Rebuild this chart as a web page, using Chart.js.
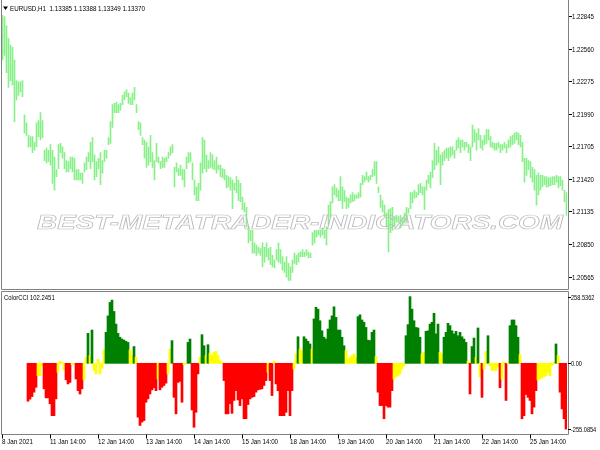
<!DOCTYPE html>
<html>
<head>
<meta charset="utf-8">
<title>EURUSD H1 - ColorCCI</title>
<script src="https://cdn.jsdelivr.net/npm/chart.js@4.4.1/dist/chart.umd.min.js"></script>
<style>
  html, body { margin: 0; padding: 0; background: #fff; }
  #marco { position: relative; width: 600px; height: 450px; overflow: hidden; background: #fff; }
  #marco canvas { position: absolute; left: 0; }
</style>
</head>
<body>
<div id="marco">
  <canvas id="precio" width="600" height="290" style="top:0"></canvas>
  <canvas id="cci" width="600" height="160" style="top:290px"></canvas>
</div>
<script>
// ======== Datos (velas H1, solo maximo y minimo) ========
const maximos = [
  1.2285, 1.2284, 1.2276, 1.2265, 1.2259, 1.2257, 1.2246, 1.2228, 1.2227, 1.2227,
  1.2228, 1.2198, 1.2191, 1.2180, 1.2179, 1.2179, 1.2174, 1.2191, 1.2193, 1.2200,
  1.2193, 1.2167, 1.2169, 1.2167, 1.2172, 1.2167, 1.2161, 1.2150, 1.2172, 1.2173,
  1.2170, 1.2165, 1.2158, 1.2157, 1.2161, 1.2161, 1.2160, 1.2150, 1.2150, 1.2147,
  1.2147, 1.2156, 1.2161, 1.2165, 1.2174, 1.2178, 1.2163, 1.2157, 1.2160, 1.2165,
  1.2158, 1.2167, 1.2167, 1.2178, 1.2192, 1.2207, 1.2208, 1.2209, 1.2207, 1.2208,
  1.2215, 1.2218, 1.2220, 1.2217, 1.2213, 1.2217, 1.2222, 1.2207, 1.2192, 1.2191,
  1.2178, 1.2176, 1.2174, 1.2170, 1.2180, 1.2165, 1.2158, 1.2173, 1.2161, 1.2157,
  1.2161, 1.2160, 1.2161, 1.2165, 1.2170, 1.2172, 1.2152, 1.2156, 1.2151, 1.2154,
  1.2150, 1.2150, 1.2161, 1.2165, 1.2165, 1.2156, 1.2141, 1.2135, 1.2138, 1.2156,
  1.2178, 1.2176, 1.2163, 1.2158, 1.2165, 1.2163, 1.2158, 1.2161, 1.2154, 1.2154,
  1.2151, 1.2150, 1.2145, 1.2144, 1.2143, 1.2141, 1.2138, 1.2144, 1.2141, 1.2138,
  1.2126, 1.2121, 1.2117, 1.2100, 1.2097, 1.2097, 1.2086, 1.2084, 1.2082, 1.2081,
  1.2086, 1.2082, 1.2086, 1.2081, 1.2082, 1.2075, 1.2071, 1.2080, 1.2086, 1.2080,
  1.2074, 1.2069, 1.2074, 1.2068, 1.2065, 1.2071, 1.2077, 1.2075, 1.2077, 1.2078,
  1.2080, 1.2078, 1.2080, 1.2078, 1.2077, 1.2095, 1.2097, 1.2097, 1.2097, 1.2097,
  1.2099, 1.2097, 1.2100, 1.2119, 1.2122, 1.2135, 1.2137, 1.2134, 1.2132, 1.2144,
  1.2135, 1.2132, 1.2126, 1.2125, 1.2128, 1.2130, 1.2128, 1.2128, 1.2130, 1.2138,
  1.2145, 1.2144, 1.2148, 1.2144, 1.2145, 1.2150, 1.2157, 1.2157, 1.2135, 1.2128,
  1.2123, 1.2119, 1.2112, 1.2115, 1.2116, 1.2117, 1.2109, 1.2110, 1.2109, 1.2110,
  1.2108, 1.2112, 1.2117, 1.2116, 1.2130, 1.2130, 1.2132, 1.2130, 1.2137, 1.2138,
  1.2135, 1.2135, 1.2141, 1.2145, 1.2148, 1.2158, 1.2173, 1.2167, 1.2170, 1.2163,
  1.2165, 1.2167, 1.2169, 1.2169, 1.2170, 1.2170, 1.2167, 1.2176, 1.2178, 1.2176,
  1.2176, 1.2174, 1.2174, 1.2172, 1.2170, 1.2189, 1.2185, 1.2182, 1.2186, 1.2180,
  1.2176, 1.2180, 1.2185, 1.2185, 1.2179, 1.2174, 1.2173, 1.2173, 1.2174, 1.2172,
  1.2172, 1.2174, 1.2172, 1.2176, 1.2179, 1.2180, 1.2182, 1.2183, 1.2182, 1.2180,
  1.2174, 1.2160, 1.2160, 1.2158, 1.2157, 1.2152, 1.2150, 1.2145, 1.2147, 1.2145,
  1.2145, 1.2144, 1.2144, 1.2143, 1.2143, 1.2144, 1.2144, 1.2145, 1.2144, 1.2144,
  1.2141, 1.2132, 1.2130
];
const minimos = [
  1.2246, 1.2250, 1.2235, 1.2222, 1.2228, 1.2224, 1.2192, 1.2211, 1.2215, 1.2218,
  1.2214, 1.2182, 1.2180, 1.2170, 1.2170, 1.2165, 1.2167, 1.2170, 1.2179, 1.2176,
  1.2178, 1.2158, 1.2156, 1.2157, 1.2154, 1.2138, 1.2132, 1.2144, 1.2151, 1.2165,
  1.2160, 1.2151, 1.2148, 1.2148, 1.2151, 1.2148, 1.2141, 1.2141, 1.2141, 1.2141,
  1.2138, 1.2148, 1.2150, 1.2157, 1.2151, 1.2157, 1.2141, 1.2144, 1.2151, 1.2137,
  1.2147, 1.2157, 1.2160, 1.2172, 1.2173, 1.2187, 1.2200, 1.2200, 1.2200, 1.2202,
  1.2207, 1.2211, 1.2214, 1.2208, 1.2207, 1.2207, 1.2211, 1.2200, 1.2185, 1.2180,
  1.2172, 1.2160, 1.2152, 1.2154, 1.2157, 1.2152, 1.2141, 1.2157, 1.2156, 1.2151,
  1.2152, 1.2152, 1.2157, 1.2160, 1.2163, 1.2165, 1.2135, 1.2148, 1.2145, 1.2145,
  1.2141, 1.2135, 1.2151, 1.2156, 1.2157, 1.2141, 1.2128, 1.2123, 1.2123, 1.2132,
  1.2147, 1.2151, 1.2148, 1.2151, 1.2152, 1.2151, 1.2150, 1.2147, 1.2150, 1.2144,
  1.2143, 1.2141, 1.2134, 1.2135, 1.2132, 1.2116, 1.2132, 1.2130, 1.2123, 1.2122,
  1.2115, 1.2113, 1.2100, 1.2086, 1.2088, 1.2077, 1.2077, 1.2075, 1.2077, 1.2075,
  1.2065, 1.2069, 1.2074, 1.2071, 1.2067, 1.2065, 1.2064, 1.2071, 1.2069, 1.2068,
  1.2062, 1.2060, 1.2056, 1.2053, 1.2053, 1.2060, 1.2068, 1.2067, 1.2069, 1.2074,
  1.2074, 1.2074, 1.2075, 1.2073, 1.2073, 1.2084, 1.2086, 1.2091, 1.2093, 1.2091,
  1.2093, 1.2090, 1.2084, 1.2102, 1.2109, 1.2121, 1.2128, 1.2126, 1.2123, 1.2123,
  1.2116, 1.2122, 1.2116, 1.2117, 1.2121, 1.2122, 1.2123, 1.2125, 1.2125, 1.2126,
  1.2137, 1.2139, 1.2141, 1.2139, 1.2141, 1.2144, 1.2145, 1.2138, 1.2130, 1.2117,
  1.2113, 1.2109, 1.2100, 1.2078, 1.2095, 1.2097, 1.2100, 1.2104, 1.2104, 1.2099,
  1.2102, 1.2104, 1.2104, 1.2112, 1.2116, 1.2121, 1.2125, 1.2126, 1.2128, 1.2130,
  1.2128, 1.2115, 1.2132, 1.2138, 1.2134, 1.2143, 1.2150, 1.2154, 1.2156, 1.2137,
  1.2154, 1.2158, 1.2160, 1.2158, 1.2161, 1.2163, 1.2160, 1.2167, 1.2169, 1.2165,
  1.2170, 1.2167, 1.2170, 1.2165, 1.2158, 1.2170, 1.2174, 1.2167, 1.2176, 1.2169,
  1.2167, 1.2172, 1.2173, 1.2176, 1.2170, 1.2169, 1.2167, 1.2167, 1.2169, 1.2165,
  1.2167, 1.2169, 1.2165, 1.2169, 1.2170, 1.2172, 1.2173, 1.2176, 1.2172, 1.2170,
  1.2157, 1.2139, 1.2145, 1.2150, 1.2143, 1.2139, 1.2132, 1.2119, 1.2128, 1.2132,
  1.2135, 1.2137, 1.2135, 1.2135, 1.2136, 1.2137, 1.2137, 1.2139, 1.2134, 1.2136,
  1.2132, 1.2122, 1.2110
];

// ======== Datos ColorCCI ========
const cciValores = [
  null, null, null, null, null, null, null, null, null, null,
  null, null, null, -147, -139, -129, -112, -93, -48, -48,
  -10, -99, -134, -134, -157, -203, -203, -138, -35, 8,
  4, -25, -64, -80, -74, -5, -3, -61, -106, -119,
  -99, -64, 23, 116, 30, 129, -28, -41, 15, -41,
  -20, 52, 120, 184, 236, 245, 201, 152, 116, 101,
  94, 90, 85, 81, 52, 30, 65, 23, -209, -241,
  -228, -222, -151, -138, -119, -103, -95, -106, -61, -103,
  -93, -86, -77, -41, 55, 88, -132, -196, -74, -70,
  -151, -5, -2, 81, 94, -181, -248, -190, -41, 23,
  111, 68, 30, 72, 39, 30, 43, 46, 30, 10,
  5, -67, -196, -196, -157, -194, -144, -106, -142, -164,
  -138, -215, -215, -160, -138, -132, -129, -112, -103, -101,
  -99, -86, -67, -35, -67, -125, 8, -80, -106, -203,
  -203, -203, -190, -106, -203, -106, -22, 36, 103, 55,
  49, 103, 94, 85, 75, 55, 172, 217, 210, 165,
  126, 101, 94, 133, 168, 184, 219, 178, 129, 129,
  101, 68, 49, 17, 23, 30, 36, 23, 181, 188,
  168, 159, 139, 90, 88, 120, 129, 26, -112, -164,
  -164, -215, -164, -170, -170, -106, -61, -52, -48, -41,
  -22, -9, 107, 150, 258.5, 210, 165, 139, 137, 101,
  36, 43, 124, 126, 152, 159, 194, 114, 152, 43,
  36, 101, 120, 155, 146, 126, 114, 124, 107, 120,
  103, 94, 81, 8, -119, 65, 98, 23, 137, -52,
  -132, -22, 46, 107, -9, -28, -26, -28, -15, -95,
  -61, 5, -144, -3, 146, 168, 168, 146, 101, 34,
  -215, -203, -121, -132, -144, -196, -170, -106, -65, -61,
  -57, -52, -48, -35, -48, -9, 4, 75, 30, -112,
  -177, -215, -255.1
];
// 1 = sube (verde), 0 = neutro (amarillo), -1 = baja (rojo)
const cciEstado = [
  0, 0, 0, 0, 0, 0, 0, 0, 0, 0,
  0, 0, 0, -1, -1, -1, -1, -1, 0, 0,
  0, -1, -1, -1, -1, -1, -1, -1, 0, 0,
  0, 0, -1, -1, -1, 0, 0, -1, -1, -1,
  -1, 0, 0, 1, 0, 1, 0, 0, 0, 0,
  0, 0, 1, 1, 1, 1, 1, 1, 1, 1,
  1, 1, 1, 1, 0, 0, 1, 0, -1, -1,
  -1, -1, -1, -1, -1, -1, -1, -1, 0, -1,
  -1, -1, -1, 0, 0, 1, -1, -1, -1, -1,
  -1, 0, 0, 1, 1, -1, -1, -1, -1, 0,
  1, 1, 0, 1, 0, 0, 0, 0, 0, 0,
  0, -1, -1, -1, -1, -1, -1, -1, -1, -1,
  -1, -1, -1, -1, -1, -1, -1, -1, -1, -1,
  -1, -1, -1, 0, -1, -1, 0, -1, -1, -1,
  -1, -1, -1, -1, -1, -1, 0, 0, 1, 0,
  0, 1, 1, 1, 1, 0, 1, 1, 1, 1,
  1, 1, 1, 1, 1, 1, 1, 1, 1, 1,
  1, 1, 0, 0, 0, 0, 0, 0, 1, 1,
  1, 1, 1, 1, 1, 1, 1, 0, -1, -1,
  -1, -1, -1, -1, -1, -1, 0, 0, 0, 0,
  0, 0, 1, 1, 1, 1, 1, 1, 1, 1,
  0, 0, 1, 1, 1, 1, 1, 1, 1, 0,
  0, 1, 1, 1, 1, 1, 1, 1, 1, 1,
  1, 1, 1, 0, -1, 1, 1, 0, 1, 0,
  -1, 0, 0, 1, 0, 0, 0, 0, 0, -1,
  0, 0, -1, 0, 1, 1, 1, 1, 1, 0,
  -1, -1, -1, -1, -1, -1, -1, -1, 0, 0,
  0, 0, 0, 0, 0, 0, 0, 1, 0, -1,
  -1, -1, -1
];

// ======== Ejes ========
const etiquetasFecha = ['8 Jan 2021', '11 Jan 14:00', '12 Jan 14:00', '13 Jan 14:00', '14 Jan 14:00',
  '15 Jan 14:00', '18 Jan 14:00', '19 Jan 14:00', '20 Jan 14:00', '21 Jan 14:00', '22 Jan 14:00', '25 Jan 14:00'];
const barrasPorEtiqueta = 24;
const preciosEje = [1.22845, 1.22560, 1.22275, 1.21990, 1.21705, 1.21420, 1.21135, 1.20850, 1.20565];
const cciEje = [258.5362, 0, -255.0854];
const cabecera = 'EURUSD,H1  1.13385 1.13388 1.13349 1.13370';
const nombreIndicador = 'ColorCCI 102.2451';
const marcaTexto = 'BEST-METATRADER-INDICATORS.COM';

const etiquetas = maximos.map((_, i) => i % barrasPorEtiqueta === 0 ? etiquetasFecha[i / barrasPorEtiqueta] : '');
const coloresCCI = { '1': '#008000', '0': '#ffff00', '-1': '#ff0000' };

// texto estrecho tipo MT4
const FUENTE = '8px "Liberation Sans", Arial, sans-serif';
const ESCALA_X = 0.78;
function texto(ctx, str, x, y, sx = ESCALA_X) {
  ctx.save();
  ctx.font = FUENTE;
  ctx.fillStyle = '#000';
  ctx.textBaseline = 'middle';
  ctx.textAlign = 'left';
  ctx.translate(x, y);
  ctx.scale(sx, 1);
  ctx.fillText(str, 0, 0);
  ctx.restore();
}

function ejeDerecho(ctx, escala, valores, formato, xBorde, sx) {
  ctx.save();
  ctx.strokeStyle = '#000';
  ctx.lineWidth = 1;
  valores.forEach(v => {
    const y = Math.round(escala.getPixelForValue(v)) + 0.5;
    ctx.beginPath();
    ctx.moveTo(xBorde, y);
    ctx.lineTo(xBorde + 3, y);
    ctx.stroke();
    texto(ctx, formato(v), xBorde + 3, y, sx);
  });
  ctx.restore();
}

const pluginPrecio = {
  id: 'pluginPrecio',
  afterDatasetsDraw(chart) {
    // marca de agua
    const ctx = chart.ctx;
    ctx.save();
    ctx.font = 'italic bold 20px "Liberation Sans", Arial, sans-serif';
    const w = ctx.measureText(marcaTexto).width;
    ctx.translate(37, 229);
    ctx.scale(526 / w, 1);
    ctx.strokeStyle = '#bcbcbc';
    ctx.lineWidth = 0.7;
    ctx.strokeText(marcaTexto, 0, 0);
    ctx.restore();
  },
  afterDraw(chart) {
    const { ctx, chartArea: a, scales: { y } } = chart;
    const der = Math.round(a.right) + 0.5;
    const abajo = Math.round(a.bottom) + 0.5;
    ctx.save();
    ctx.strokeStyle = '#808080';
    ctx.lineWidth = 1;
    ctx.beginPath();
    ctx.moveTo(1.5, 0); ctx.lineTo(1.5, abajo); ctx.lineTo(der, abajo); ctx.lineTo(der, 0);
    ctx.stroke();
    // triangulo del menu
    ctx.fillStyle = '#000';
    ctx.beginPath();
    ctx.moveTo(3, 6.5); ctx.lineTo(8, 6.5); ctx.lineTo(5.5, 10); ctx.closePath();
    ctx.fill();
    ctx.restore();
    texto(ctx, cabecera, 10, 8.5);
    ejeDerecho(ctx, y, preciosEje, v => v.toFixed(5), der + 0.5, 0.76);
  }
};

const pluginCCI = {
  id: 'pluginCCI',
  afterDraw(chart) {
    const { ctx, chartArea: a, scales: { x, y } } = chart;
    const der = Math.round(a.right) + 1.5;
    const abajo = Math.round(a.bottom) + 0.5;
    ctx.save();
    ctx.strokeStyle = '#808080';
    ctx.lineWidth = 1;
    ctx.beginPath();
    ctx.moveTo(1.5, 1.5); ctx.lineTo(1.5, abajo); ctx.lineTo(der, abajo); ctx.lineTo(der, 1.5); ctx.closePath();
    ctx.stroke();
    // marcas y fechas del eje X
    ctx.strokeStyle = '#000';
    etiquetasFecha.forEach((t, k) => {
      const px = Math.round(x.getPixelForValue(k * barrasPorEtiqueta)) + 0.5;
      ctx.beginPath();
      ctx.moveTo(px, abajo);
      ctx.lineTo(px, abajo + 4);
      ctx.stroke();
      texto(ctx, t, px - 0.5, abajo + 7.5);
    });
    ctx.restore();
    texto(ctx, nombreIndicador, 4, 7.5, 0.74);
    ejeDerecho(ctx, y, cciEje, v => v === 0 ? '0.00' : v.toFixed(4), der - 0.5, 0.7);
  }
};

// ======== Grafico de precio ========
new Chart(document.getElementById('precio'), {
  type: 'bar',
  data: {
    labels: etiquetas,
    datasets: [{
      data: maximos.map((h, i) => [minimos[i], h]),
      backgroundColor: '#88f088',
      barThickness: 1
    }]
  },
  options: {
    responsive: false,
    animation: false,
    events: [],
    layout: { padding: { left: 1.5, top: 0, right: 0, bottom: 1 } },
    plugins: { legend: { display: false }, tooltip: { enabled: false } },
    scales: {
      x: { display: false },
      y: {
        position: 'right', min: 1.20456, max: 1.22985,
        grid: { display: false }, border: { display: false }, ticks: { display: false },
        afterFit: s => { s.width = 32.5; }
      }
    }
  },
  plugins: [pluginPrecio]
});

// ======== Grafico ColorCCI ========
new Chart(document.getElementById('cci'), {
  type: 'bar',
  data: {
    labels: etiquetas,
    datasets: [{
      data: cciValores,
      backgroundColor: cciEstado.map(e => coloresCCI[e]),
      borderWidth: 0,
      barPercentage: 1,
      categoryPercentage: 1
    }]
  },
  options: {
    responsive: false,
    animation: false,
    events: [],
    layout: { padding: { left: 1, top: 2, right: 0, bottom: 16 } },
    plugins: { legend: { display: false }, tooltip: { enabled: false } },
    scales: {
      x: { display: false },
      y: {
        position: 'right', min: -274.1, max: 276.4,
        grid: { display: false }, border: { display: false }, ticks: { display: false },
        afterFit: s => { s.width = 33; }
      }
    }
  },
  plugins: [pluginCCI]
});
</script>
</body>
</html>
